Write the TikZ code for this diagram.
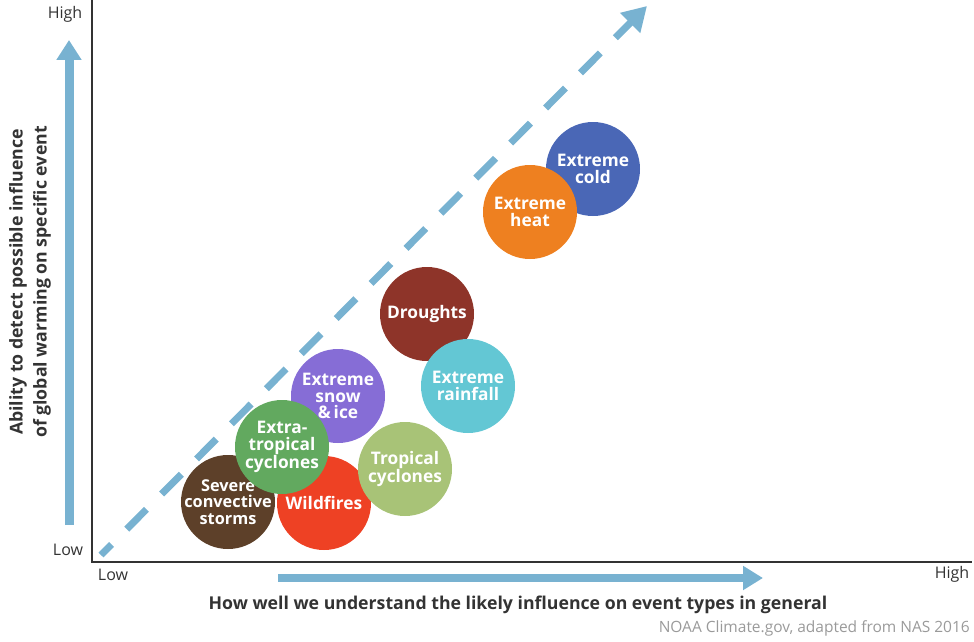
\documentclass[tikz,border=0pt]{standalone}
\usepackage{fontspec}
\setmainfont{Open Sans}
\usetikzlibrary{positioning,arrows.meta}

\definecolor{azulseta}{HTML}{78B2D1}
\definecolor{textoescuro}{HTML}{333333}
\definecolor{cinzafonte}{HTML}{9A9A9A}
\definecolor{corsevere}{HTML}{5D4029}
\definecolor{corfire}{HTML}{EE4124}
\definecolor{corextra}{HTML}{62A95F}
\definecolor{corsnow}{HTML}{866DD6}
\definecolor{cortrop}{HTML}{A8C377}
\definecolor{cordrought}{HTML}{8E3429}
\definecolor{corrain}{HTML}{63C7D4}
\definecolor{corheat}{HTML}{EE8020}
\definecolor{corcold}{HTML}{4A67B6}

\tikzset{
  evento/.style = {circle, minimum size = 94pt, inner sep = -8pt, text = white, align = center,
                   font = \bfseries\fontsize{17.3}{16.8}\selectfont},
  rotulo/.style = {text = textoescuro, inner sep = 0pt, font = \fontsize{16}{20}\selectfont},
  titulo/.style = {text = textoescuro, inner sep = 0pt, align = center, font = \bfseries\fontsize{17.7}{24}\selectfont},
  seta/.style = {azulseta, line width = 9pt, -{Triangle[width = 24pt, length = 20pt]}},
}

\begin{document}
\begin{tikzpicture}[x = 1pt, y = -1pt]
      \useasboundingbox (0, 0) rectangle (974, 642);

      % eixos
      \coordinate (topo) at (92, 0);
      \coordinate (origem) at (92, 562);
      \coordinate (fim) at (972, 562);
      \draw[textoescuro, line width = 2pt] (topo) -- (origem) -- (fim);

      \node[rotulo] (yhigh) at (65, 14) {High};
      \node[rotulo] (ylow) at (68, 550) {Low};
      \node[rotulo] (xlow) at (113, 575) {Low};
      \node[rotulo] (xhigh) at (952, 574) {High};

      % setas
      \coordinate (ybase) at (69, 525);
      \coordinate (yponta) at (69, 40);
      \coordinate (xbase) at (278, 578);
      \coordinate (xponta) at (763, 578);
      \draw[seta] (ybase) -- (yponta);
      \draw[seta, line width = 8pt, -{Triangle[width = 23pt, length = 20pt]}] (xbase) -- (xponta);

      % diagonal
      \coordinate (dbase) at (101, 555);
      \coordinate (dponta) at (647, 6);
      \draw[azulseta, line width = 7pt, dash pattern = on 28pt off 21.5pt, dash phase = 13pt,
            -{Triangle[width = 27pt, length = 24pt]}] (dbase) -- (dponta);

      % titulos
      \node[titulo, rotate = 90] (ytitulo) at (30, 282) {Ability to detect possible influence\\of global warming on specific event};
      \node[titulo] (xtitulo) at (518, 605) {How well we understand the likely influence on event types in general};
      \node[rotulo, anchor = east, text = cinzafonte, font = \fontsize{15.5}{20}\selectfont] (fonte) at (970, 628) {NOAA Climate.gov, adapted from NAS 2016};

      % eventos
      \node[evento, fill = corsnow] (snow) at (338, 396) {Extreme\\snow\\\&\,ice};
      \node[evento, fill = corsevere, font = \bfseries\fontsize{16.3}{16.8}\selectfont] (severe) at (228, 502) {Severe\\convective\\storms};
      \node[evento, fill = corfire] (fire) at (324, 503) {Wildfires};
      \node[evento, fill = corextra] (extra) at (282, 447) {Extra-\\tropical\\cyclones};
      \node[evento, fill = cortrop] (trop) at (405, 469) {Tropical\\cyclones};
      \node[evento, fill = cordrought] (drought) at (427, 314) {Droughts};
      \node[evento, fill = corrain] (rain) at (468, 386) {Extreme\\rainfall};
      \node[evento, fill = corcold] (cold) at (593, 169) {Extreme\\cold};
      \node[evento, fill = corheat] (heat) at (530, 212) {Extreme\\heat};
    \end{tikzpicture}
\end{document}
